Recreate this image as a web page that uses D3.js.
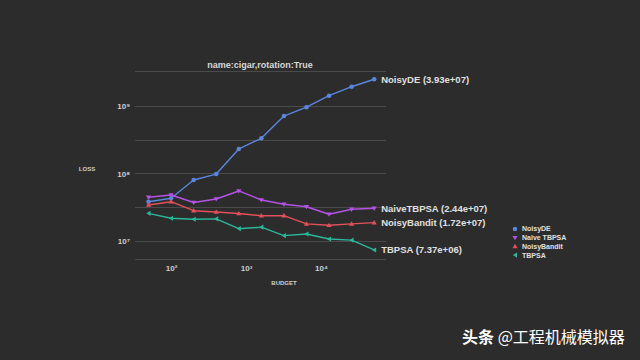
<!DOCTYPE html>
<html><head><meta charset="utf-8">
<script src="https://cdn.jsdelivr.net/npm/d3@7"></script>
<style>
html,body{margin:0;padding:0;background:#2c2c2c;}
svg{display:block;}
</style></head>
<body>
<script>
const title = "name:cigar,rotation:True";
const budgets = [50, 100, 200, 400, 800, 1600, 3200, 6400, 12800, 25600, 51200];
const seriesNames = ["NoisyDE", "NaiveTBPSA", "NoisyBandit", "TBPSA"];
const legendNames = ["NoisyDE", "Naive TBPSA", "NoisyBandit", "TBPSA"];
const finalLabels = ["NoisyDE (3.93e+07)", "NaiveTBPSA (2.44e+07)", "NoisyBandit (1.72e+07)", "TBPSA (7.37e+06)"];
const noisyDE = [3.82e7, 4.29e7, 8.0e7, 9.8e7, 2.31e8, 3.32e8, 7.1e8, 9.6e8, 1.42e9, 1.93e9, 2.49e9];
const naiveTBPSA = [4.44e7, 4.80e7, 3.72e7, 4.19e7, 5.51e7, 4.05e7, 3.50e7, 3.22e7, 2.49e7, 2.95e7, 3.05e7];
const noisyBandit = [3.41e7, 3.82e7, 2.81e7, 2.69e7, 2.55e7, 2.37e7, 2.37e7, 1.79e7, 1.71e7, 1.79e7, 1.87e7];
const tbpsa = [2.57e7, 2.17e7, 2.10e7, 2.13e7, 1.52e7, 1.60e7, 1.20e7, 1.27e7, 1.07e7, 1.03e7, 7.36e6];
const xTicks = [100, 1000, 10000];
const xTickLabels = ["10²", "10³", "10⁴"];
const yTicks = [1e9, 1e8, 1e7];
const yTickLabels = ["10⁹", "10⁸", "10⁷"];
const colors = ["#5a86e0", "#b552e6", "#e2505c", "#2ab89c"];
const watermark = "@工程机械模拟器";
const watermarkHead = "头条";

const values = [noisyDE, naiveTBPSA, noisyBandit, tbpsa];
const W = 640, H = 360;
const svg = d3.select("body").append("svg").attr("width", W).attr("height", H);
svg.append("rect").attr("width", W).attr("height", H).attr("fill", "#2c2c2c");

const x = d3.scaleLog().domain([33, 73600]).range([135, 386]);
const y = d3.scaleLog().domain([5.41e6, 3.3e9]).range([259, 71]);

// gridlines
const gridVals = [3.3e9, 1e9, Math.sqrt(10)*1e8, 1e8, Math.sqrt(10)*1e7, 1e7, 5.41e6];
svg.append("g").selectAll("line").data(gridVals).join("line")
  .attr("x1", 135).attr("x2", 386)
  .attr("y1", d => Math.round(y(d)) + 0.5).attr("y2", d => Math.round(y(d)) + 0.5)
  .attr("stroke", "#4a4a4a").attr("stroke-width", 1);

const font = "Liberation Sans, Arial, sans-serif";

// y axis
const yAxis = d3.axisLeft(y).tickValues(yTicks).tickFormat((d, i) => yTickLabels[i]).tickSize(0).tickPadding(5);
const gy = svg.append("g").attr("transform", "translate(135,0)").call(yAxis);
gy.select(".domain").remove();
gy.selectAll("text").attr("fill", "#cfcfcf").style("font-family", font).style("font-size", "8px").style("font-weight", "bold");

// x axis
const xAxis = d3.axisBottom(x).tickValues(xTicks).tickFormat((d, i) => xTickLabels[i]).tickSize(0).tickPadding(6);
const gx = svg.append("g").attr("transform", "translate(0,259)").call(xAxis);
gx.select(".domain").remove();
gx.selectAll("text").attr("fill", "#cfcfcf").style("font-family", font).style("font-size", "8px").style("font-weight", "bold");

svg.append("text").attr("x", 260).attr("y", 68).attr("text-anchor", "middle")
  .attr("fill", "#d8d8d8").style("font-family", font).style("font-size", "9px").style("font-weight", "bold").text(title);
svg.append("text").attr("x", 284).attr("y", 285).attr("text-anchor", "middle")
  .attr("fill", "#d0d0d0").style("font-family", font).style("font-size", "6px").style("font-weight", "bold").text("BUDGET");
svg.append("text").attr("x", 87).attr("y", 171).attr("text-anchor", "middle")
  .attr("fill", "#d0d0d0").style("font-family", font).style("font-size", "6px").style("font-weight", "bold").text("LOSS");

// markers
const markerPath = [
  d3.symbol().type(d3.symbolCircle).size(16)(),
  "M-2.6,-1.8L2.6,-1.8L0,2.6Z",
  "M-2.6,1.8L2.6,1.8L0,-2.6Z",
  "M-2.2,0L2,-2.6L2,2.6Z"
];

const line = d3.line().x((d, i) => x(budgets[i])).y(d => y(d));
values.forEach((vals, k) => {
  const g = svg.append("g");
  g.append("path").attr("d", line(vals)).attr("fill", "none")
    .attr("stroke", colors[k]).attr("stroke-width", 1.4).attr("stroke-linejoin", "round");
  g.selectAll("path.m").data(vals).join("path").attr("class", "m")
    .attr("transform", (d, i) => `translate(${x(budgets[i])},${y(d)})`)
    .attr("d", markerPath[k]).attr("fill", colors[k]);
  g.append("text").attr("x", x(budgets[budgets.length - 1]) + 7).attr("y", y(vals[vals.length - 1]) + 3.3)
    .attr("fill", "#e0e0e0").style("font-family", font).style("font-size", "9.5px").style("font-weight", "bold")
    .text(finalLabels[k]);
});

// legend
const lg = svg.append("g");
legendNames.forEach((n, k) => {
  const yy = 229 + k * 8.7;
  lg.append("path").attr("transform", `translate(515,${yy})`).attr("d", markerPath[k]).attr("fill", colors[k]);
  lg.append("text").attr("x", 522).attr("y", yy + 2.4).attr("fill", "#e0e0e0")
    .style("font-family", font).style("font-size", "7px").style("font-weight", "bold").text(n);
});

// watermark
const wm = svg.append("text").attr("x", 462).attr("y", 343)
  .style("font-family", "Noto Sans CJK SC, sans-serif").style("font-size", "16px").attr("fill", "#ffffff");
wm.append("tspan").style("font-weight", "bold").text(watermarkHead + " ");
wm.append("tspan").text(watermark);
</script>
</body></html>
